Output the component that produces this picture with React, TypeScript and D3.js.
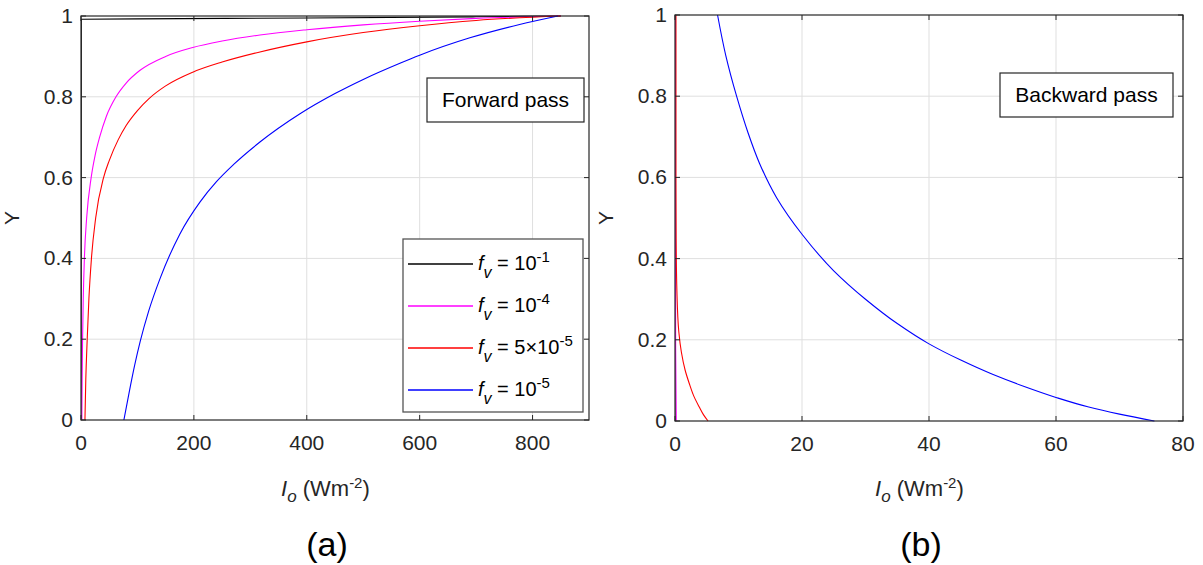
import * as d3 from 'd3';
import { useEffect, useRef } from 'react';

// y ticks shared by both panels
const yTicks = [0, 0.2, 0.4, 0.6, 0.8, 1];
const yTickLabels = ['0', '0.2', '0.4', '0.6', '0.8', '1'];

// (a) forward pass, [I_o, Y]
const fwdTicks = [0, 200, 400, 600, 800];
const fwdBlack = [[0.2, 0], [0.5, 0.992], [100, 0.993], [400, 0.995], [700, 0.998], [850, 1]];
const fwdMagenta = [[1.5, 0], [2, 0.1], [2.8, 0.2], [4, 0.3], [6, 0.4], [10, 0.5], [18, 0.6], [25, 0.655], [33, 0.7], [45, 0.752], [62, 0.8], [80, 0.834], [104, 0.865], [150, 0.9], [198, 0.922], [250, 0.938], [317, 0.953], [400, 0.966], [500, 0.978], [600, 0.987], [700, 0.994], [850, 1]];
const fwdRed = [[7, 0], [8.5, 0.1], [11, 0.2], [14, 0.3], [18.5, 0.4], [26, 0.5], [40, 0.6], [50, 0.642], [66, 0.694], [80, 0.729], [100, 0.766], [120, 0.795], [150, 0.827], [198, 0.861], [250, 0.886], [317, 0.911], [400, 0.936], [500, 0.959], [600, 0.976], [700, 0.989], [850, 1]];
const fwdBlue = [[76, 0], [85, 0.066], [95, 0.135], [105, 0.195], [120, 0.27], [140, 0.35], [175, 0.46], [211, 0.54], [240, 0.59], [270, 0.632], [317, 0.688], [388, 0.758], [450, 0.808], [500, 0.843], [565, 0.883], [600, 0.903], [689, 0.946], [777, 0.979], [845, 1]];

// (b) backward pass, [I_o, Y]
const bwdTicks = [0, 20, 40, 60, 80];
const bwdBlack = [[0.003, 1], [0.005, 0]];
const bwdMagenta = [[0.05, 1], [0.1, 0.2], [0.2, 0]];
const bwdRed = [[0.15, 1], [0.15, 0.6], [0.18, 0.45], [0.3, 0.32], [0.6, 0.22], [1.0, 0.17], [1.6, 0.125], [2.3, 0.09], [3.0, 0.06], [3.8, 0.035], [4.5, 0.015], [5.2, 0]];
const bwdBlue = [[6.7, 1], [8, 0.9], [9.7, 0.8], [11.5, 0.71], [13.3, 0.635], [16, 0.55], [20, 0.46], [25, 0.37], [30, 0.3], [35, 0.24], [40, 0.19], [45, 0.15], [50, 0.115], [55, 0.085], [60, 0.058], [65, 0.035], [70, 0.017], [75.5, 0]];

const legendExps = ['-1', '-4', '-5', '-5'];
const legendMant = ['', '', '5×', ''];
const colors = ['#000000', '#ff00ff', '#ff0000', '#0000ff'];

const FONT = 'Liberation Sans, Arial, sans-serif';
const AX = '#262626';

export default function App() {
  const ref = useRef<SVGSVGElement>(null);

  useEffect(() => {
    const svg = d3.select(ref.current);
    svg.selectAll('*').remove();

    const panels = [
      { id: 'a', x0: 81, x1: 589, y0: 420, y1: 16, max: 900, ticks: fwdTicks, series: [fwdBlack, fwdMagenta, fwdRed, fwdBlue], curve: d3.curveMonotoneX, label: '(a)', note: 'Forward pass', box: [427, 78, 157, 44] },
      { id: 'b', x0: 675, x1: 1183, y0: 421, y1: 15, max: 80, ticks: bwdTicks, series: [bwdBlack, bwdMagenta, bwdRed, bwdBlue], curve: d3.curveMonotoneY, label: '(b)', note: 'Backward pass', box: [1000, 73, 173, 44] },
    ];

    panels.forEach(p => {
      const x = d3.scaleLinear().domain([0, p.max]).range([p.x0, p.x1]);
      const y = d3.scaleLinear().domain([0, 1]).range([p.y0, p.y1]);
      const g = svg.append('g');

      g.append('rect').attr('x', p.x0).attr('y', p.y1).attr('width', p.x1 - p.x0).attr('height', p.y0 - p.y1).attr('fill', '#fff');

      // grid
      g.selectAll('.gx').data(p.ticks.slice(1)).enter().append('line')
        .attr('x1', d => x(d)).attr('x2', d => x(d)).attr('y1', p.y0).attr('y2', p.y1)
        .attr('stroke', '#dfdfdf').attr('stroke-width', 1);
      g.selectAll('.gy').data(yTicks.slice(1, -1)).enter().append('line')
        .attr('x1', p.x0).attr('x2', p.x1).attr('y1', d => y(d)).attr('y2', d => y(d))
        .attr('stroke', '#dfdfdf').attr('stroke-width', 1);

      // curves
      const clipId = 'clip-' + p.id;
      svg.append('clipPath').attr('id', clipId).append('rect')
        .attr('x', p.x0).attr('y', p.y1 - 1).attr('width', p.x1 - p.x0).attr('height', p.y0 - p.y1 + 2);
      const line = d3.line<number[]>().x(d => x(d[0])).y(d => y(d[1])).curve(p.curve);
      const cg = g.append('g').attr('clip-path', `url(#${clipId})`);
      p.series.forEach((s, i) => {
        cg.append('path').attr('d', line(s)).attr('fill', 'none').attr('stroke', colors[i]).attr('stroke-width', 1.1);
      });

      // frame
      g.append('rect').attr('x', p.x0).attr('y', p.y1).attr('width', p.x1 - p.x0).attr('height', p.y0 - p.y1)
        .attr('fill', 'none').attr('stroke', AX).attr('stroke-width', 1.2);

      // inward ticks on all sides
      const tk = 5;
      p.ticks.forEach(t => {
        g.append('line').attr('x1', x(t)).attr('x2', x(t)).attr('y1', p.y0).attr('y2', p.y0 - tk).attr('stroke', AX);
        g.append('line').attr('x1', x(t)).attr('x2', x(t)).attr('y1', p.y1).attr('y2', p.y1 + tk).attr('stroke', AX);
      });
      yTicks.forEach(t => {
        g.append('line').attr('x1', p.x0).attr('x2', p.x0 + tk).attr('y1', y(t)).attr('y2', y(t)).attr('stroke', AX);
        g.append('line').attr('x1', p.x1).attr('x2', p.x1 - tk).attr('y1', y(t)).attr('y2', y(t)).attr('stroke', AX);
      });

      // tick labels
      g.selectAll('.xl').data(p.ticks).enter().append('text')
        .attr('x', d => x(d)).attr('y', p.y0 + 30).attr('text-anchor', 'middle')
        .attr('font-family', FONT).attr('font-size', 21).attr('fill', AX).text(d => String(d));
      g.selectAll('.yl').data(yTicks).enter().append('text')
        .attr('x', p.x0 - 8).attr('y', d => y(d) + 7).attr('text-anchor', 'end')
        .attr('font-family', FONT).attr('font-size', 21).attr('fill', AX).text((d, i) => yTickLabels[i]);

      // axis titles
      const cx = (p.x0 + p.x1) / 2;
      const xt = g.append('text').attr('x', cx - 54).attr('y', 496)
        .attr('font-family', FONT).attr('font-size', 22).attr('fill', AX);
      xt.append('tspan').attr('font-style', 'italic').text('I');
      xt.append('tspan').attr('font-style', 'italic').attr('font-size', 17).attr('dy', 6).text('o');
      xt.append('tspan').attr('dy', -6).text(' (Wm');
      xt.append('tspan').attr('font-size', 15).attr('dy', -8).text('-2');
      xt.append('tspan').attr('dy', 8).text(')');

      g.append('text').attr('transform', `translate(${p.x0 - 62},${(p.y0 + p.y1) / 2}) rotate(-90)`)
        .attr('text-anchor', 'middle').attr('font-family', FONT).attr('font-size', 21).attr('fill', AX).text('Y');

      g.append('text').attr('x', cx - 8).attr('y', 556).attr('text-anchor', 'middle')
        .attr('font-family', FONT).attr('font-size', 34).attr('fill', '#000').text(p.label);

      // annotation box
      const [bx, by, bw, bh] = p.box;
      g.append('rect').attr('x', bx).attr('y', by).attr('width', bw).attr('height', bh)
        .attr('fill', '#fff').attr('stroke', AX).attr('stroke-width', 1.2);
      g.append('text').attr('x', bx + bw / 2).attr('y', by + 29).attr('text-anchor', 'middle')
        .attr('font-family', FONT).attr('font-size', 21).attr('fill', '#000').text(p.note);

      // legend (panel a only)
      if (p.id === 'a') {
        const lg = g.append('g');
        lg.append('rect').attr('x', 403).attr('y', 239).attr('width', 180).attr('height', 173)
          .attr('fill', '#fff').attr('stroke', '#555').attr('stroke-width', 1.3);
        colors.forEach((c, i) => {
          const ly = 264 + i * 42;
          lg.append('line').attr('x1', 408).attr('x2', 473).attr('y1', ly).attr('y2', ly).attr('stroke', c).attr('stroke-width', 1.3);
          const t = lg.append('text').attr('x', 478).attr('y', ly + 6)
            .attr('font-family', FONT).attr('font-size', 20).attr('fill', '#000');
          t.append('tspan').attr('font-style', 'italic').text('f');
          t.append('tspan').attr('font-style', 'italic').attr('font-size', 16).attr('dy', 8).text('v');
          t.append('tspan').attr('dy', -8).text(' = ' + legendMant[i] + '10');
          t.append('tspan').attr('font-size', 15).attr('dy', -8).text(legendExps[i]);
        });
      }
    });
  }, []);

  return (
    <div>
      <svg ref={ref} width={1203} height={565} style={{ position: 'absolute', left: 0, top: 0, background: '#fff' }} />
    </div>
  );
}
